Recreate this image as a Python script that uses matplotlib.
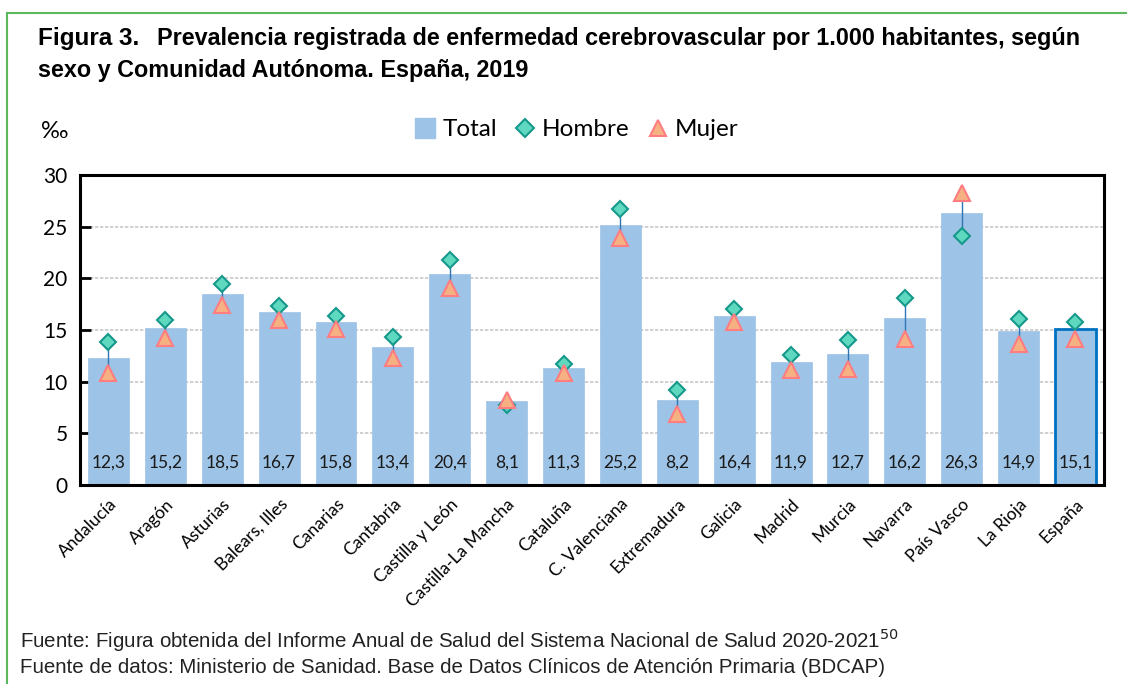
import matplotlib
matplotlib.use("Agg")
import matplotlib.pyplot as plt
from matplotlib.lines import Line2D
import numpy as np

regiones = ["Andalucía", "Aragón", "Asturias", "Balears, Illes", "Canarias", "Cantabria",
            "Castilla y León", "Castilla-La Mancha", "Cataluña", "C. Valenciana", "Extremadura",
            "Galicia", "Madrid", "Murcia", "Navarra", "País Vasco", "La Rioja", "España"]
total = [12.3, 15.2, 18.5, 16.7, 15.8, 13.4, 20.4, 8.1, 11.3, 25.2, 8.2, 16.4, 11.9, 12.7,
         16.2, 26.3, 14.9, 15.1]
hombre = [13.8, 16.0, 19.5, 17.3, 16.4, 14.3, 21.8, 7.7, 11.7, 26.7, 9.2, 17.0, 12.6, 14.0,
          18.1, 24.1, 16.1, 15.8]
mujer = [10.8, 14.2, 17.4, 16.0, 15.1, 12.3, 19.1, 8.2, 10.8, 23.9, 6.9, 15.8, 11.1, 11.2,
         14.1, 28.3, 13.6, 14.1]
yticks = [0, 5, 10, 15, 20, 25, 30]

BAR = "#9dc3e6"
DIAM_FC, DIAM_EC = "#5fd8c0", "#16998a"
TRI_FC, TRI_EC = "#f6b183", "#ff7c80"
body = "Lato"
sans = "Liberation Sans"

fig = plt.figure(figsize=(11.27, 6.84), dpi=100)
ax = fig.add_axes([0.071, 0.291, 0.9085, 0.453])

x = np.arange(len(regiones))
edges = [BAR] * (len(x) - 1) + ["#0070c0"]
lws = [0.5] * (len(x) - 1) + [2.0]
ax.bar(x, total, width=0.72, color=BAR, edgecolor=edges, linewidth=lws, zorder=2)

# lineas entre hombre y mujer
ax.vlines(x, mujer, hombre, color="#2e75b6", linewidth=1.0, zorder=3)
ax.plot(x, hombre, linestyle="none", marker="D", markersize=8.5, markerfacecolor=DIAM_FC,
        markeredgecolor=DIAM_EC, markeredgewidth=1.5, zorder=4)
ax.plot(x, mujer, linestyle="none", marker="^", markersize=11, markerfacecolor=TRI_FC,
        markeredgecolor=TRI_EC, markeredgewidth=1.5, zorder=5)

for xi, v in zip(x, total):
    ax.text(xi, 2.2, f"{v:.1f}".replace(".", ","), ha="center", va="center",
            fontsize=12.5, family=body, color="#1a1a1a", zorder=6)

ax.set_xlim(-0.5, len(x) - 0.5)
ax.set_ylim(0, 30)
ax.set_yticks(yticks)
ax.set_yticklabels([str(t) for t in yticks], fontsize=15, family=body)
ax.tick_params(axis="y", direction="in", length=8, width=2, pad=9)
ax.yaxis.grid(True, linestyle=(0, (2, 1)), color="#c8c8c8", linewidth=1.2, zorder=0)
ax.set_axisbelow(True)
ax.set_xticks(x)
ax.set_xticklabels(regiones, rotation=45, ha="right", rotation_mode="anchor",
                   fontsize=12.5, family=body)
ax.tick_params(axis="x", length=0, pad=8)
for s in ax.spines.values():
    s.set_linewidth(2.2)
    s.set_color("black")

# leyenda
handles = [
    Line2D([], [], linestyle="none", marker="s", markersize=15, markerfacecolor=BAR,
           markeredgecolor=BAR),
    Line2D([], [], linestyle="none", marker="D", markersize=9, markerfacecolor=DIAM_FC,
           markeredgecolor=DIAM_EC, markeredgewidth=1.5),
    Line2D([], [], linestyle="none", marker="^", markersize=12, markerfacecolor=TRI_FC,
           markeredgecolor=TRI_EC, markeredgewidth=1.5),
]
fig.legend(handles, ["Total", "Hombre", "Mujer"], loc="center", bbox_to_anchor=(0.512, 0.81),
           ncol=3, frameon=False, prop={"family": body, "size": 17.5}, handlelength=0.8,
           handletextpad=0.3, columnspacing=0.75)

fig.text(0.036, 0.808, "‰", fontsize=17, family=body, ha="left", va="center")

# titulo
fig.text(0.139, 0.944, "Prevalencia registrada de enfermedad cerebrovascular por 1.000 habitantes, según",
         fontsize=16.8, fontweight="bold", family=sans, ha="left", va="center")
fig.text(0.034, 0.897, "sexo y Comunidad Autónoma. España, 2019", fontsize=16.8,
         fontweight="bold", family=sans, ha="left", va="center")
fig.text(0.034, 0.944, "Figura 3.", fontsize=17.5, fontweight="bold", family=sans,
         ha="left", va="center")

fig.text(0.018, 0.064, "Fuente: Figura obtenida del Informe Anual de Salud del Sistema Nacional de Salud 2020-2021$^{50}$",
         fontsize=14.8, family=sans, ha="left", va="center", color="#222222")
fig.text(0.018, 0.024, "Fuente de datos: Ministerio de Sanidad. Base de Datos Clínicos de Atención Primaria (BDCAP)",
         fontsize=14.8, family=sans, ha="left", va="center", color="#222222")

# marco verde
fig.add_artist(Line2D([0.006, 0.006], [0.0, 0.981], color="#5cb85c", linewidth=1.5,
                      transform=fig.transFigure))
fig.add_artist(Line2D([0.006, 1.0], [0.981, 0.981], color="#5cb85c", linewidth=1.5,
                      transform=fig.transFigure))

fig.savefig("out.png", dpi=100)
